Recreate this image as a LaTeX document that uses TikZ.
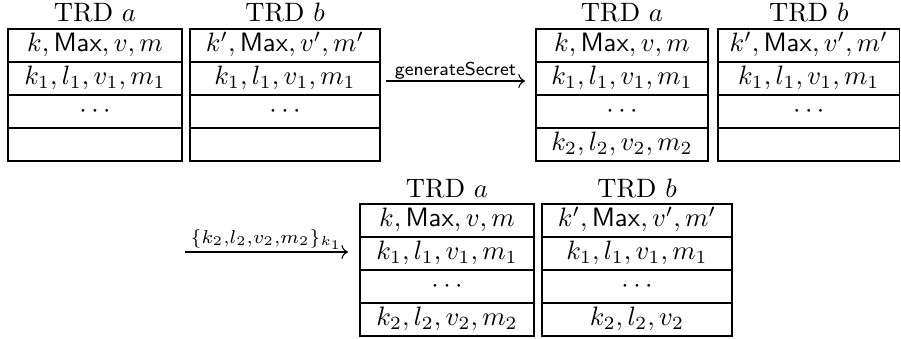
\documentclass[tikz,border=0pt]{standalone}
\usetikzlibrary{arrows.meta}
\tikzset{
  cell/.style={draw, line width=0.4pt, inner xsep=0pt, inner ysep=0.2pt, outer sep=0pt,
    text height=8.4pt, text depth=3.6pt, minimum height={33*0.376pt}},
  trdtitle/.style={inner sep=0pt, anchor=base},
  lbl/.style={inner sep=0pt, anchor=base},
  arr/.style={line width=0.4pt, -{Computer Modern Rightarrow}}
}
\newcommand{\trdtable}[9]{%
  \node[cell, minimum width={#4*0.376pt}, anchor=north west] (#1-1) at (#2,#3) {#6};
  \node[cell, minimum width={#4*0.376pt}, anchor=north] (#1-2) at (#1-1.south) {#7};
  \node[cell, minimum width={#4*0.376pt}, anchor=north] (#1-3) at (#1-2.south) {#8};
  \node[cell, minimum width={#4*0.376pt}, anchor=north] (#1-4) at (#1-3.south) {#9};
  \node[trdtitle] (#1-t) at ([yshift={7*0.376pt}]#1-1.north) {#5};
}
\begin{document}
\begin{tikzpicture}[x=0.376pt, y=-0.376pt]
\useasboundingbox (0,0) rectangle (901,339);
\clip (0,0) rectangle (901,339);
% row 1
\trdtable{a1}{8}{29}{174}{TRD $a$}{$k,\mathsf{Max},v,m$}{$k_1,l_1,v_1,m_1$}{$\cdots$}{}
\trdtable{b1}{190}{29}{190}{TRD $b$}{$k',\mathsf{Max},v',m'$}{$k_1,l_1,v_1,m_1$}{$\cdots$}{}
\coordinate (s1) at (386,81);
\coordinate (e1) at (525,81);
\draw[arr] (s1) -- (e1);
\node[lbl] (lab1) at (455.5,75.5) {\sffamily\scriptsize generateSecret};
\trdtable{a2}{536}{29}{172}{TRD $a$}{$k,\mathsf{Max},v,m$}{$k_1,l_1,v_1,m_1$}{$\cdots$}{$k_2,l_2,v_2,m_2$}
\trdtable{b2}{718}{29}{181.5}{TRD $b$}{$k',\mathsf{Max},v',m'$}{$k_1,l_1,v_1,m_1$}{$\cdots$}{}
% row 2
\coordinate (s2) at (185,252);
\coordinate (e2) at (348,252);
\draw[arr] (s2) -- (e2);
\node[lbl] (lab2) at (266.5,243) {$\scriptstyle\{k_2,l_2,v_2,m_2\}_{k_1}$};
\trdtable{a3}{360}{204}{174}{TRD $a$}{$k,\mathsf{Max},v,m$}{$k_1,l_1,v_1,m_1$}{$\cdots$}{$k_2,l_2,v_2,m_2$}
\trdtable{b3}{542}{204}{190}{TRD $b$}{$k',\mathsf{Max},v',m'$}{$k_1,l_1,v_1,m_1$}{$\cdots$}{$k_2,l_2,v_2$}
\end{tikzpicture}
\end{document}
